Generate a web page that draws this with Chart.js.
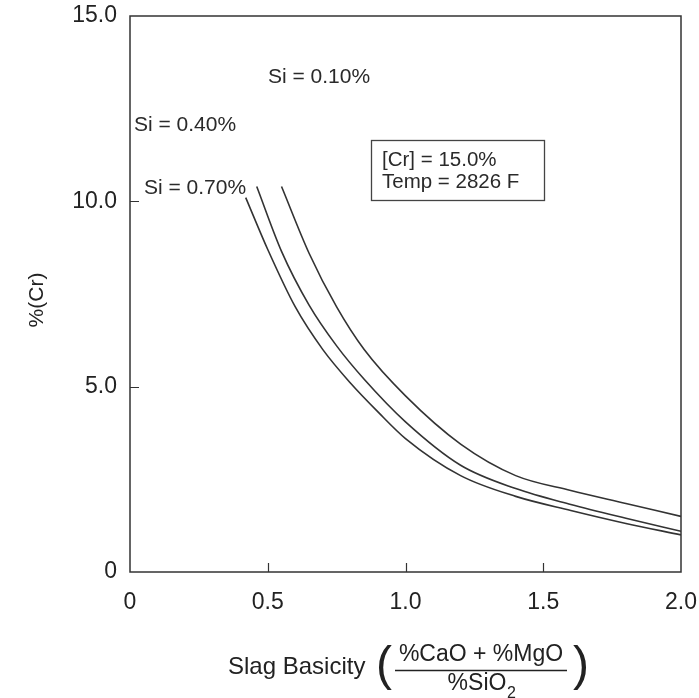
<!DOCTYPE html>
<html>
<head>
<meta charset="utf-8">
<script src="https://cdn.jsdelivr.net/npm/chart.js@4/dist/chart.umd.min.js"></script>
<style>
  html, body { margin: 0; padding: 0; background: #fff; }
  #wrap { width: 699px; height: 698px; }
</style>
</head>
<body>
<div id="wrap"><canvas id="chart" width="699" height="698"></canvas></div>
<script>
// values
const si010X = [0.55, 0.65, 0.75, 0.85, 1.0, 1.2, 1.4, 1.6, 1.8, 2.0];
const si010Y = [10.4, 8.6, 7.15, 6.0, 4.75, 3.45, 2.6, 2.2, 1.85, 1.5];
const si040X = [0.46, 0.55, 0.65, 0.75, 0.85, 1.0, 1.2, 1.4, 1.6, 1.8, 2.0];
const si040Y = [10.4, 8.65, 7.2, 6.1, 5.2, 4.05, 2.88, 2.25, 1.82, 1.45, 1.1];
const si070X = [0.42, 0.5, 0.6, 0.7, 0.8, 0.9, 1.0, 1.2, 1.4, 1.6, 1.8, 2.0];
const si070Y = [10.1, 8.7, 7.15, 6.0, 5.1, 4.32, 3.6, 2.6, 2.04, 1.66, 1.31, 1.0];

const xTickValues = [0, 0.5, 1.0, 1.5, 2.0];
const xTickLabels = ['0', '0.5', '1.0', '1.5', '2.0'];
const yTickValues = [0, 5, 10, 15];
const yTickLabels = ['0', '5.0', '10.0', '15.0'];

const curveLabels = ['Si = 0.10%', 'Si = 0.40%', 'Si = 0.70%'];
const infoLines = ['[Cr] = 15.0%', 'Temp = 2826 F'];

const FONT = '"Liberation Sans", Arial, sans-serif';
const INK = '#222';

function pts(xs, ys) {
    return xs.map((x, i) => ({ x: x, y: ys[i] }));
}

function curve(label, xs, ys) {
    return {
        label: label,
        data: pts(xs, ys),
        borderColor: '#333',
        borderWidth: 1.6,
        pointRadius: 0,
        fill: false,
        cubicInterpolationMode: 'monotone'
    };
}

// frame, inward ticks and the text that is not an axis label
const decorations = {
    id: 'decorations',
    afterDraw(chart) {
        const ctx = chart.ctx;
        const a = chart.chartArea;
        const xs = chart.scales.x, ys = chart.scales.y;
        ctx.save();
        ctx.strokeStyle = '#333';
        ctx.lineWidth = 1.5;
        ctx.strokeRect(a.left, a.top, a.right - a.left, a.bottom - a.top);

        ctx.lineWidth = 1.2;
        ctx.beginPath();
        [0.5, 1.0, 1.5].forEach(v => {
            const px = Math.round(xs.getPixelForValue(v)) + 0.5;
            ctx.moveTo(px, a.bottom);
            ctx.lineTo(px, a.bottom - 9);
        });
        [5, 10].forEach(v => {
            const py = Math.round(ys.getPixelForValue(v)) + 0.5;
            ctx.moveTo(a.left, py);
            ctx.lineTo(a.left + 9, py);
        });
        ctx.stroke();

        ctx.fillStyle = '#2a2a2a';
        ctx.font = '21px ' + FONT;
        ctx.textBaseline = 'middle';
        ctx.textAlign = 'left';
        ctx.fillText(curveLabels[0], 268, 77);
        ctx.fillText(curveLabels[1], 134, 125);
        ctx.fillText(curveLabels[2], 144, 188);

        // info box
        ctx.lineWidth = 1.3;
        ctx.strokeStyle = '#444';
        ctx.strokeRect(371.5, 140.5, 173, 60);
        ctx.font = '20.5px ' + FONT;
        ctx.fillText(infoLines[0], 382, 160);
        ctx.fillText(infoLines[1], 382, 182);

        // y title
        ctx.fillStyle = INK;
        ctx.save();
        ctx.translate(37, 300);
        ctx.rotate(-Math.PI / 2);
        ctx.textAlign = 'center';
        ctx.font = '21px ' + FONT;
        ctx.fillText('%(Cr)', 0, 0);
        ctx.restore();

        // x title with fraction
        ctx.font = '24px ' + FONT;
        ctx.textAlign = 'left';
        ctx.fillText('Slag Basicity', 228, 667);
        ctx.font = '23px ' + FONT;
        ctx.textAlign = 'center';
        ctx.fillText('%CaO + %MgO', 481, 655);
        ctx.lineWidth = 1.4;
        ctx.strokeStyle = INK;
        ctx.beginPath();
        ctx.moveTo(395, 670.5);
        ctx.lineTo(567, 670.5);
        ctx.stroke();
        ctx.fillText('%SiO', 477, 684);
        ctx.font = '16px ' + FONT;
        ctx.textAlign = 'left';
        ctx.fillText('2', 507, 694);
        // parentheses
        ctx.font = '48px ' + FONT;
        ctx.textAlign = 'center';
        ctx.fillText('(', 384, 667);
        ctx.fillText(')', 581, 667);
        ctx.restore();
    }
};

new Chart(document.getElementById('chart'), {
    type: 'line',
    data: {
        datasets: [
            curve(curveLabels[0], si010X, si010Y),
            curve(curveLabels[1], si040X, si040Y),
            curve(curveLabels[2], si070X, si070Y)
        ]
    },
    options: {
        responsive: false,
        animation: false,
        layout: { padding: { top: 16, right: 18, left: 0, bottom: 0 } },
        plugins: {
            legend: { display: false },
            tooltip: { enabled: false }
        },
        scales: {
            x: {
                type: 'linear',
                min: 0,
                max: 2,
                afterFit(scale) {
                    scale.height = 126;
                    scale.paddingLeft = 0;
                    scale.paddingRight = 0;
                },
                afterBuildTicks(scale) { scale.ticks = xTickValues.map(v => ({ value: v })); },
                grid: { display: false, drawTicks: false },
                border: { display: false },
                ticks: {
                    padding: 17,
                    color: INK,
                    font: { family: FONT, size: 23 },
                    maxRotation: 0,
                    callback: (v) => xTickLabels[xTickValues.indexOf(v)]
                }
            },
            y: {
                type: 'linear',
                min: 0,
                max: 15,
                afterFit(scale) {
                    scale.width = 130;
                    scale.paddingTop = 0;
                    scale.paddingBottom = 0;
                },
                afterBuildTicks(scale) { scale.ticks = yTickValues.map(v => ({ value: v })); },
                grid: { display: false, drawTicks: false },
                border: { display: false },
                ticks: {
                    padding: 13,
                    color: INK,
                    font: { family: FONT, size: 23 },
                    callback: (v) => yTickLabels[yTickValues.indexOf(v)]
                }
            }
        }
    },
    plugins: [decorations]
});
</script>
</body>
</html>
